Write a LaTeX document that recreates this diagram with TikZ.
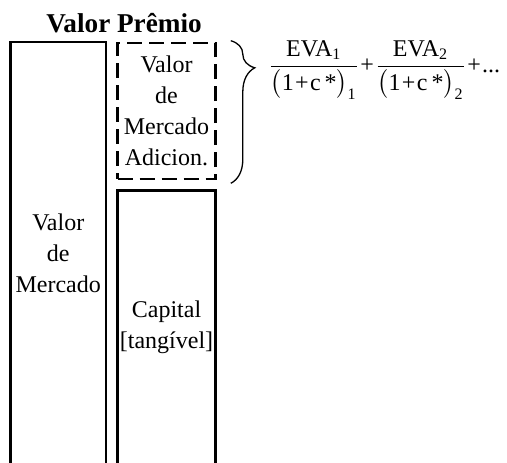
\documentclass[tikz,border=0pt]{standalone}
\usepackage{fontspec}
\setmainfont{Liberation Serif}
\usepackage{amsmath}
\usetikzlibrary{decorations.pathreplacing}

\newcommand{\evaterm}[1]{\dfrac{\text{EVA}_{\text{#1}}}{\bigl(\text{1}\mathbin{\text{+}}\text{c\,*}\bigr)_{\text{#1}}}}

\begin{document}
\begin{tikzpicture}[x=0.5pt,y=-0.5pt]
\clip (0,0) rectangle (507,462);

\node[anchor=base,font=\fontsize{13.6}{16}\selectfont\bfseries] (premio) at (124,32) {Valor Prêmio};

\begin{scope}[every node/.style={draw=black,line width=1.3pt,align=center,inner sep=0pt,
                                 font=\fontsize{12}{15.5}\selectfont}]
    \node[minimum width=47.75pt,minimum height=211pt] (mercado) at (58.25,253) {Valor\\de\\Mercado};
    \node[dash pattern=on 7.5pt off 3.5pt,minimum width=49pt,minimum height=68pt] (adicional) at (166.5,111) {Valor\\de\\Mercado\\Adicion.};
    \node[minimum width=49pt,minimum height=136.75pt] (capital) at (166.5,327.25) {Capital\\{[tangível]}};
\end{scope}

\draw[decorate,decoration={brace,amplitude=12pt,aspect=0.19},line width=0.65pt]
    ([xshift=7pt,yshift=0.5pt]adicional.north east) -- ([xshift=7pt,yshift=-1.5pt]adicional.south east);

\node[anchor=west,inner sep=0pt,font=\fontsize{12}{14}\selectfont] (eva) at (268,70)
    {$\medmuskip=1mu\evaterm{1}\mathbin{\text{+}}\evaterm{2}\mathbin{\text{+}}\text{...}$};
\end{tikzpicture}
\end{document}
